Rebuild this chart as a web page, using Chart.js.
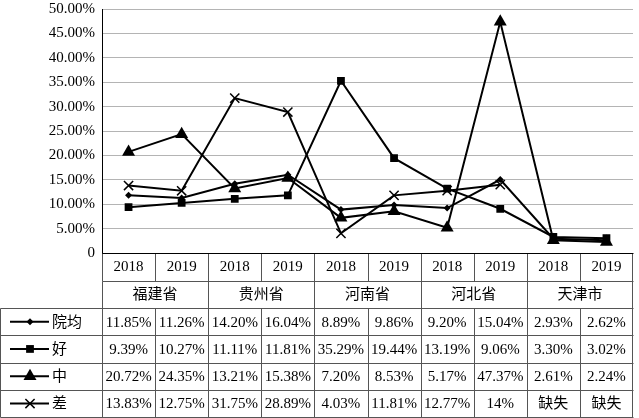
<!DOCTYPE html>
<html>
<head>
<meta charset="utf-8">
<script src="https://cdn.jsdelivr.net/npm/chart.js@4/dist/chart.umd.min.js"></script>
<style>
  html, body { margin: 0; padding: 0; background: #fff; overflow: hidden; }
  #wrap { width: 639px; height: 418px; overflow: hidden; }
  #grafico { display: block; margin-top: -7px; }
</style>
</head>
<body>
<div id="wrap"><canvas id="grafico" width="641" height="426"></canvas></div>
<script>
var anos = ['2018', '2019', '2018', '2019', '2018', '2019', '2018', '2019', '2018', '2019'];
var provincias = ['福建省', '贵州省', '河南省', '河北省', '天津市'];
var nomes_series = ['院均', '好', '中', '差'];

var val_yuanjun = [11.85, 11.26, 14.20, 16.04, 8.89, 9.86, 9.20, 15.04, 2.93, 2.62];
var val_hao = [9.39, 10.27, 11.11, 11.81, 35.29, 19.44, 13.19, 9.06, 3.30, 3.02];
var val_zhong = [20.72, 24.35, 13.21, 15.38, 7.20, 8.53, 5.17, 47.37, 2.61, 2.24];
var val_cha = [13.83, 12.75, 31.75, 28.89, 4.03, 11.81, 12.77, 14, null, null];

var ticks_y = [0, 5, 10, 15, 20, 25, 30, 35, 40, 45, 50];

var fonte = '15px "Liberation Serif", "Times New Roman", "Noto Sans CJK SC", serif';
var estilos = ['rectRot', 'rect', 'triangle', 'crossRot'];
var raios = [3.5, 5.5, 7.5, 6.5];
var lista_valores = [val_yuanjun, val_hao, val_zhong, val_cha];

function formatar(v) {
    if (v === null) return '缺失';
    if (Number.isInteger(v)) return v + '%';
    return v.toFixed(2) + '%';
}

function desenha_marca(ctx, estilo, r, x, y) {
    ctx.save();
    ctx.fillStyle = '#000';
    ctx.strokeStyle = '#000';
    ctx.lineWidth = 1.5;
    ctx.beginPath();
    if (estilo == 'rectRot') {
        ctx.moveTo(x, y - r); ctx.lineTo(x + r, y); ctx.lineTo(x, y + r); ctx.lineTo(x - r, y);
        ctx.closePath(); ctx.fill();
    } else if (estilo == 'rect') {
        var s = Math.SQRT1_2 * r;
        ctx.rect(x - s, y - s, 2 * s, 2 * s); ctx.fill();
    } else if (estilo == 'triangle') {
        ctx.moveTo(x, y - r);
        ctx.lineTo(x + r * 0.866, y + r * 0.5);
        ctx.lineTo(x - r * 0.866, y + r * 0.5);
        ctx.closePath(); ctx.fill();
    } else {
        var d = Math.SQRT1_2 * r;
        ctx.moveTo(x - d, y - d); ctx.lineTo(x + d, y + d);
        ctx.moveTo(x + d, y - d); ctx.lineTo(x - d, y + d);
        ctx.stroke();
    }
    ctx.restore();
}

// tabela de dados desenhada abaixo do grafico
var plugin_tabela = {
    id: 'tabela',
    afterDraw: function (chart) {
        var ctx = chart.ctx;
        var area = chart.chartArea;
        var n = anos.length;
        var colW = (area.right - area.left) / n;
        var topo_ano = area.bottom;
        var topo_prov = topo_ano + 28;
        var topo_serie = topo_prov + 27;
        var rowH = 27.3;
        var fundo = topo_serie + rowH * nomes_series.length;

        ctx.save();
        ctx.lineWidth = 1;
        ctx.strokeStyle = '#555';

        function linha(x1, y1, x2, y2) {
            ctx.beginPath();
            ctx.moveTo(Math.round(x1) + 0.5, Math.round(y1) + 0.5);
            ctx.lineTo(Math.round(x2) + 0.5, Math.round(y2) + 0.5);
            ctx.stroke();
        }

        // linhas horizontais
        linha(area.left, topo_prov, area.right, topo_prov);
        linha(0, topo_serie, area.right, topo_serie);
        for (var r = 1; r <= nomes_series.length; r++) {
            linha(0, topo_serie + rowH * r, area.right, topo_serie + rowH * r);
        }
        // verticais
        linha(0, topo_serie, 0, fundo);
        for (var c = 0; c <= n; c++) {
            var xc = area.left + c * colW;
            if (c == n) xc = area.right - 1;
            linha(xc, topo_ano, xc, topo_prov);
            linha(xc, topo_serie, xc, fundo);
            if (c % 2 == 0) linha(xc, topo_prov, xc, topo_serie);
        }
        // eixo x
        ctx.strokeStyle = '#000';
        linha(area.left, topo_ano, area.right, topo_ano);

        ctx.fillStyle = '#000';
        ctx.font = fonte;
        ctx.textAlign = 'center';
        ctx.textBaseline = 'middle';

        for (var i = 0; i < n; i++) {
            var cx = chart.scales.x.getPixelForValue(i);
            ctx.fillText(anos[i], cx, topo_ano + 14);
            for (var s = 0; s < nomes_series.length; s++) {
                ctx.fillText(formatar(lista_valores[s][i]), cx, topo_serie + rowH * s + rowH / 2 + 1);
            }
        }
        for (var p = 0; p < provincias.length; p++) {
            var px = area.left + (p * 2 + 1) * colW;
            ctx.fillText(provincias[p], px, topo_prov + 14);
        }

        // legenda na primeira coluna
        ctx.textAlign = 'left';
        for (var s2 = 0; s2 < nomes_series.length; s2++) {
            var ly = topo_serie + rowH * s2 + rowH / 2;
            ctx.strokeStyle = '#000';
            ctx.lineWidth = 2;
            ctx.beginPath();
            ctx.moveTo(10, ly); ctx.lineTo(49, ly);
            ctx.stroke();
            desenha_marca(ctx, estilos[s2], raios[s2], 30, ly);
            ctx.fillText(nomes_series[s2], 52, ly + 1);
        }
        ctx.restore();
    }
};

function monta_dataset(i) {
    return {
        label: nomes_series[i],
        data: lista_valores[i],
        borderColor: '#000',
        backgroundColor: '#000',
        borderWidth: 2,
        pointStyle: estilos[i],
        pointRadius: raios[i],
        pointBorderWidth: estilos[i] == 'crossRot' ? 1.5 : 0,
        pointBackgroundColor: '#000',
        pointBorderColor: '#000',
        tension: 0,
        spanGaps: false
    };
}

var config = {
    type: 'line',
    data: {
        labels: anos,
        datasets: [monta_dataset(0), monta_dataset(1), monta_dataset(2), monta_dataset(3)]
    },
    options: {
        responsive: false,
        animation: false,
        layout: { padding: { top: 0, right: 1, bottom: 166, left: 0 } },
        plugins: { legend: { display: false }, tooltip: { enabled: false } },
        scales: {
            x: { display: false, offset: true },
            y: {
                min: 0,
                max: 50,
                afterBuildTicks: function (scale) {
                    scale.ticks = ticks_y.map(function (v) { return { value: v }; });
                },
                afterFit: function (scale) { scale.width = 102; },
                border: { color: '#000', width: 1 },
                grid: { color: '#b4b4b4', drawTicks: false },
                ticks: {
                    padding: 7,
                    color: '#000',
                    font: { family: '"Liberation Serif", "Times New Roman", serif', size: 15 },
                    callback: function (v) { return v === 0 ? '0' : Number(v).toFixed(2) + '%'; }
                }
            }
        }
    },
    plugins: [plugin_tabela]
};

var grafico = new Chart(document.getElementById('grafico'), config);
</script>
</body>
</html>
